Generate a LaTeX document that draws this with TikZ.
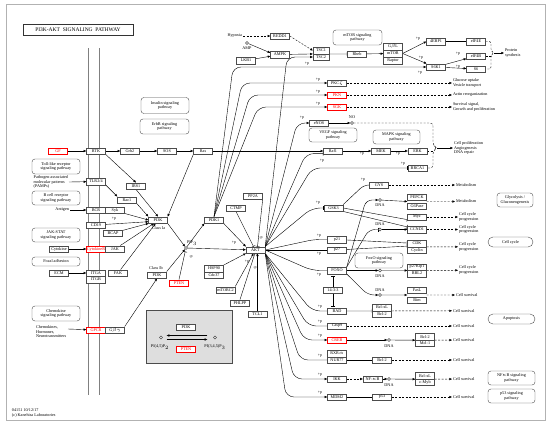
\documentclass[tikz,border=0pt]{standalone}
\usepackage{fontspec}
\setmainfont{Liberation Serif}
\usetikzlibrary{arrows.meta,calc}
\pgfdeclarelayer{bg}
\pgfsetlayers{bg,main}
\tikzset{every picture/.style={line width=0.5pt}}
\tikzset{
  gene/.style={draw=black!70, fill=white, minimum width=19pt, minimum height=6.5pt, inner sep=0pt, font=\fontsize{4.2}{4.2}\selectfont},
  rgene/.style={gene, draw=red, text=red},
  pathbox/.style={draw=black!70, fill=white, rounded corners=3pt, align=center, inner sep=0pt, font=\fontsize{4.2}{4.6}\selectfont},
  txt/.style={inner sep=0pt, outer sep=1pt, align=left, font=\fontsize{4.2}{4.6}\selectfont},
  plab/.style={inner sep=0pt, font=\fontsize{4}{4}\selectfont},
  dot/.style={circle, draw=black!70, fill=white, inner sep=0pt, minimum size=3pt},
  arr/.style={-{Triangle[length=2.6pt,width=2.2pt]}},
  inh/.style={-{Bar[width=4pt]}},
  dashpat/.style={dash pattern=on 2pt off 1.5pt},
  dasharr/.style={arr, dashpat},
  memb/.style={draw=gray, double=white, double distance=0.8pt, line width=0.45pt},
}
\begin{document}
\begin{tikzpicture}[x=1pt,y=1pt,yscale=-1,xscale=1]
\useasboundingbox (0,0) rectangle (550,426);

\begin{pgfonlayer}{bg}
%Shape: Frame
\draw [draw=gray!60, line width=1pt] (6,4) rectangle (545,420);
%Straight Lines: membrane
\draw [memb] (89,48) -- (89,395);
\draw [memb] (100,48) -- (100,395);
%Shape: Rectangle legend
\draw [draw=black!70, fill=black!13, line width=0.7pt] (146,310) rectangle (232,363);
\end{pgfonlayer}

% Text Node
\node [draw=black!80, line width=0.6pt, minimum width=110pt, minimum height=11pt, inner sep=0pt, font=\fontsize{5.5}{5.5}\selectfont] (title) at (78,29.5) {PI3K-AKT\ \ SIGNALING\ \ PATHWAY};

% pathway maps
\node [pathbox, minimum width=48pt, minimum height=16pt] (insulin) at (165,105.5) {Insulin signaling\\pathway};
\node [pathbox, minimum width=49pt, minimum height=15pt] (erbb) at (164.5,126.5) {ErbB signaling\\pathway};
\node [pathbox, minimum width=48pt, minimum height=15pt] (tlrpath) at (56,166.5) {Toll-like receptor\\signaling pathway};
\node [pathbox, minimum width=48pt, minimum height=14pt] (bcrpath) at (56,198) {B cell receptor\\signaling pathway};
\node [pathbox, minimum width=48pt, minimum height=14pt] (jakpath) at (56,235) {JAK-STAT\\signaling pathway};
\node [pathbox, minimum width=48pt, minimum height=9pt] (focal) at (56,261.5) {Focal adhesion};
\node [pathbox, minimum width=48pt, minimum height=15pt] (chempath) at (56,313.5) {Chemokine\\signaling pathway};
\node [pathbox, minimum width=49pt, minimum height=15pt] (mtorpath) at (357.5,37.5) {mTOR signaling\\pathway};
\node [pathbox, minimum width=48pt, minimum height=14pt] (vegf) at (333,135) {VEGF signaling\\pathway};
\node [pathbox, minimum width=47pt, minimum height=14pt] (mapk) at (396.5,137) {MAPK signaling\\pathway};
\node [pathbox, minimum width=48pt, minimum height=15pt] (foxopath) at (379,260.5) {FoxO signaling\\pathway};
\node [pathbox, minimum width=36pt, minimum height=14pt] (glyco) at (515,200) {Glycolysis /\\Gluconeogenesis};
\node [pathbox, minimum width=45pt, minimum height=10pt, rounded corners=5pt] (cellcyc) at (510.5,242) {Cell cycle};
\node [pathbox, minimum width=47pt, minimum height=10pt, rounded corners=5pt] (apopt) at (511.5,319) {Apoptosis};
\node [pathbox, minimum width=47pt, minimum height=14pt] (nfkbpath) at (511.5,378) {NF$\kappa$B signaling\\pathway};
\node [pathbox, minimum width=47pt, minimum height=14pt] (p53path) at (511.5,396) {p53 signaling\\pathway};

% receptors and left side
\node [rgene] (gf) at (58,151) {GF};
\node [gene] (rtk) at (96,151) {RTK};
\node [gene] (grb2) at (130,151) {Grb2};
\node [gene] (sos) at (167,151) {SOS};
\node [gene] (ras) at (203,151) {Ras};
\node [gene] (tlr24) at (96,181.5) {TLR2/4};
\node [gene] (irs1) at (136,186) {IRS1};
\node [gene] (rac1) at (127,200) {Rac1};
\node [gene] (bcr) at (96,210) {BCR};
\node [gene] (syk) at (115,210) {Syk};
\node [gene] (cd19) at (96,225) {CD19};
\node [gene] (bcap) at (113,233) {BCAP};
\node [gene] (cytok) at (59,249) {Cytokine};
\node [rgene] (cytokr) at (96,249) {CytokineR};
\node [gene] (jak) at (115,249) {JAK};
\node [gene] (ecm) at (59,273) {ECM};
\node [gene] (itga) at (96,273) {ITGA};
\node [gene] (itgb) at (96,279.5) {ITGB};
\node [gene] (fak) at (118,273) {FAK};
\node [gene] (pi3ka) at (158,220) {PI3K};
\node [gene] (pi3kb) at (157,275) {PI3K};
\node [rgene] (pten) at (179,283) {PTEN};
\node [rgene] (gpcr) at (96,330) {GPCR};
\node [gene] (gbg) at (115,330) {G$\beta\gamma$};

% AKT core
\node [dot] (pip3) at (186,248) {};
\node [gene] (pdk1) at (214,220) {PDK1};
\node [gene] (ctmp) at (236,208) {CTMP};
\node [gene] (pp2a) at (253,196) {PP2A};
\node [gene] (akt) at (255.5,250) {AKT};
\node [gene] (hsp90) at (214,268.5) {HSP90};
\node [gene] (cdc37) at (214,275) {Cdc37};
\node [gene] (mtorc2) at (225.5,290) {mTORC2};
\node [gene] (phlpp) at (240,303) {PHLPP};
\node [gene] (tcl1) at (257.5,314) {TCL1};

% mTOR branch
\node [gene] (redd1) at (280,36) {REDD1};
\node [dot] (amp) at (247,43) {};
\node [gene] (ampk) at (280,54.5) {AMPK};
\node [gene] (lkb1) at (246,60.5) {LKB1};
\node [gene, minimum width=16pt] (tsc1) at (321,50.5) {TSC1};
\node [gene, minimum width=16pt] (tsc2) at (321,57) {TSC2};
\node [gene] (rheb) at (357,54) {Rheb};
\node [gene, minimum height=7pt] (gbl) at (393,46.5) {G$\beta$L};
\node [gene, minimum height=7pt] (mtor) at (393,53.5) {mTOR};
\node [gene, minimum height=7pt] (raptor) at (393,60.5) {Raptor};
\node [gene] (ebp) at (436,41.5) {4EBP1};
\node [gene] (eif4e) at (476,41.5) {eIF4E};
\node [gene] (eif4b) at (476,56) {eIF4B};
\node [gene] (s6) at (476,69) {S6};
\node [gene] (s6k) at (436,67) {S6K1};
\node [gene] (pkc) at (337,83) {PKC$\zeta$};
\node [rgene] (pkn) at (337,95) {PKN};
\node [rgene] (sgk) at (337,107) {SGK};

% right side
\node [gene] (enos) at (319,123) {eNOS};
\node [dot] (no) at (352,123) {};
\node [gene] (raf1) at (333,151) {Raf1};
\node [gene] (mek) at (381,151) {MEK};
\node [gene] (erk) at (417.5,151) {ERK};
\node [gene] (brca1) at (417.5,168) {BRCA1};
\node [gene] (gys) at (379,185) {GYS};
\node [gene] (gsk3) at (333.5,208) {GSK3};
\node [gene] (pepck) at (417,197) {PEPCK};
\node [gene] (g6pase) at (417,206) {G6Pase};
\node [dot] (dna1) at (380,200) {};
\node [gene] (myc) at (417,217) {Myc};
\node [gene] (ccnd1) at (417,229.5) {CCND1};
\node [dot] (dna2) at (380,229.5) {};
\node [gene] (p21) at (337,239.5) {p21};
\node [gene] (p27) at (337,250) {p27};
\node [gene] (cdk) at (417,243.5) {CDK};
\node [gene] (cyclin) at (417,250) {Cyclin};
\node [gene] (foxo) at (337,270.5) {FOXO};
\node [dot] (dna3) at (380,270.5) {};
\node [gene] (kip1) at (417,267) {p27Kip1};
\node [gene] (rbl2) at (417,273.5) {RBL2};
\node [gene] (x1433) at (333,290) {14-3-3};
\node [dot] (dna4) at (380,295) {};
\node [gene] (fasl) at (417,290) {FasL};
\node [gene] (bim) at (417,300) {Bim};
\node [gene] (bad) at (337,311) {BAD};
\node [gene] (bclxl) at (382,307.5) {Bcl-xL};
\node [gene] (bcl2a) at (382,314) {Bcl-2};
\node [gene] (casp9) at (337,326) {Casp9};
\node [rgene] (creb) at (337,340) {CREB};
\node [dot] (dna5) at (389,340) {};
\node [gene] (bcl2b) at (425,336.75) {Bcl-2};
\node [gene] (mcl1) at (425,343.25) {Mcl-1};
\node [gene] (rxra) at (337,353.5) {RXR$\alpha$};
\node [gene] (nur77) at (337,360) {NUR77};
\node [gene] (bcl2c) at (382,360) {Bcl-2};
\node [gene] (ikk) at (337,379) {IKK};
\node [gene] (nfkb) at (372.5,379) {NF-$\kappa$B};
\node [dot] (dna6) at (389,379) {};
\node [gene] (bclxl2) at (425,375.75) {Bcl-xL};
\node [gene] (cmyb) at (425,382.25) {c-Myb};
\node [gene] (mdm2) at (337,397) {MDM2};
\node [gene] (p53) at (382,397) {p53};

% legend
\node [gene] (lpi3k) at (186,327) {PI3K};
\node [rgene] (lpten) at (186,349) {PTEN};
\node [dot] (lc1) at (161,337.5) {};
\node [dot] (lc2) at (215,337.5) {};
\node [txt] (lc1lab) at (160,347) {PI(4,5)P$_2$};
\node [txt] (lc2lab) at (215,347) {PI(3,4,5)P$_3$};

% Text Nodes
\node [txt, anchor=east] (pamps) at (69,182) {Pathogen-associated\\molecular patterns\\(PAMPs)};
\node [txt, anchor=east] (antigen) at (70,210) {Antigen};
\node [txt, anchor=north west] (chemo) at (35,324.5) {Chemokines,\\Hormones,\\Neurotransmitters};
\coordinate (chemoarr) at (68,329);
\node [txt, anchor=east] (hypoxia) at (243,36) {Hypoxia};
\node [txt] (amplab) at (247,48.5) {AMP};
\node [txt] (pip3lab) at (192,243) {PIP$_3$};
\node [txt] (cla) at (158.5,228) {Class Ia};
\node [txt] (clb) at (156,268) {Class Ib};
\node [txt] (nolab) at (352,117) {NO};
\node [txt] (dna1lab) at (380,205.5) {DNA};
\node [txt] (dna2lab) at (380,224.5) {DNA};
\node [txt] (dna3lab) at (380,276) {DNA};
\node [txt] (dna4lab) at (380,290) {DNA};
\node [txt] (dna5lab) at (389,346) {DNA};
\node [txt] (dna6lab) at (389,385) {DNA};
\node [txt, anchor=west] (psyn) at (504,53) {Protein\\synthesis};
\node [txt, anchor=west] (oglu) at (452,83) {Glucose uptake\\Vesicle transport};
\node [txt, anchor=west] (oact) at (452,95) {Actin reorganization};
\node [txt, anchor=west] (osurv) at (452,107) {Survival signal,\\Growth and proliferation};
\node [txt, anchor=west] (oprol) at (453,148) {Cell proliferation\\Angiogenesis\\DNA repair};
\node [txt, anchor=west] (omet1) at (455,185) {Metabolism};
\node [txt, anchor=west] (omet2) at (455,201.5) {Metabolism};
\node [txt, anchor=west] (occ1) at (458,217) {Cell cycle\\progression};
\node [txt, anchor=west] (occ2) at (458,229.5) {Cell cycle\\progression};
\node [txt, anchor=west] (occ3) at (458,246.75) {Cell cycle\\progression};
\node [txt, anchor=west] (occ4) at (458,270.25) {Cell cycle\\progression};
\node [txt, anchor=west] (ocs1) at (455,295) {Cell survival};
\node [txt, anchor=west] (ocs2) at (452,310.75) {Cell survival};
\node [txt, anchor=west] (ocs3) at (452,326) {Cell survival};
\node [txt, anchor=west] (ocs4) at (452,340) {Cell survival};
\node [txt, anchor=west] (ocs5) at (452,360) {Cell survival};
\node [txt, anchor=west] (ocs6) at (452,379) {Cell survival};
\node [txt, anchor=west] (ocs7) at (452,397) {Cell survival};
\node [txt, anchor=west] (kegg) at (11,413) {04151 10/12/17\\(c) Kanehisa Laboratories};

% +p labels
\node [plab] (pSyk) at (114,219) {+p};
\node [plab] (pPdk) at (234,243) {+p};
\node [plab] (pMtorc) at (247,262) {+p};
\node [plab] (pPhl) at (255,268) {-p};
\node [plab] (pPp2a) at (261,238) {-p};
\node [plab] (pPten) at (191,257) {-p};
\node [plab] (pTsc) at (307,64) {+p};
\node [plab] (pEbp) at (418,39) {+p};
\node [plab] (pS6ka) at (421,58) {+p};
\node [plab] (pS6kb) at (420,73) {+p};
\node [plab] (pEif) at (458,54) {+p};
\node [plab] (pS6) at (458,67) {+p};
\node [plab] (pPkc) at (318,80) {+p};
\node [plab] (pPkn) at (318,92) {+p};
\node [plab] (pSgk) at (318,104) {+p};
\node [plab] (pEnos) at (302,118) {+p};
\node [plab] (pRaf) at (322,161) {+p};
\node [plab] (pMek) at (362,154) {+p};
\node [plab] (pErk) at (398,154) {+p};
\node [plab] (pBrca) at (403,164) {+p};
\node [plab] (pGys) at (363,180) {+p};
\node [plab] (pGsk) at (318,203) {+p};
\node [plab] (pP21) at (319,236) {+p};
\node [plab] (pP27) at (319,253.5) {+p};
\node [plab] (pFoxo) at (319,275) {+p};
\node [plab] (pBad) at (320,307) {+p};
\node [plab] (pCasp) at (320,322) {+p};
\node [plab] (pCreb) at (320,336) {+p};
\node [plab] (pNur) at (320,356) {+p};
\node [plab] (pIkk) at (320,375) {+p};
\node [plab] (pMdm) at (320,393) {+p};

\begin{pgfonlayer}{bg}
% receptor side
\draw [arr] (gf) -- (rtk);
\draw [arr] (rtk) -- (grb2);
\draw [arr] (grb2) -- (sos);
\draw [arr] (sos) -- (ras);
\draw [arr] (ras) -- (raf1);
\draw [arr] (rtk.south east) -- (irs1.north);
\draw [arr] (pamps.east) -- (tlr24);
\draw [arr] (tlr24.south east) -- (rac1.north west);
\draw [arr] (irs1.south) -- (pi3ka.north);
\draw [arr] (rac1.south east) -- (pi3ka.north west);
\draw [arr] (antigen) -- (bcr);
\draw [arr] (syk.south east) -- (pi3ka.west);
\draw [arr] (cd19) -- (pi3ka.190);
\draw [arr] (bcap) -- (pi3ka.200);
\draw [arr] (jak) -- (pi3ka.220);
\draw [arr] (fak) -- (pi3ka.235);
\draw [arr] (ras.south west) -- (pi3ka.north east);
\draw [arr] (cytok) -- (cytokr);
\draw [arr] (ecm) -- (itga);
\draw [arr] (chemoarr) -- (gpcr);
\draw [arr] (gbg.north east) -- (pi3kb.south);
% PIP3 and AKT
\draw [arr] (pi3ka.south east) -- (pip3);
\draw [arr] (pi3kb.north east) -- (pip3);
\draw [inh, shorten >=2pt] (pten.north) -- (pip3);
\draw [arr] (pip3) -- (pdk1.south west);
\draw [arr] (pip3) -- (akt);
\draw [arr] (pdk1.south east) -- (akt.north west);
\draw [inh] (ctmp.south) -- (akt.120);
\draw [inh] (pp2a.south east) -- (akt.60);
\draw [arr] (hsp90.north east) -- (akt.south west);
\draw [arr] (mtorc2.north east) -- (akt.240);
\draw [inh] (phlpp.north) -- (akt.260);
\draw [arr] (tcl1) -- (tcl1 |- akt.south);
% PDK1 targets
\draw [arr, rounded corners=8pt] (pdk1.north) -- (233,67) -- (s6k);
\draw [arr, rounded corners=8pt] (pdk1.north) -- (242,83) -- (pkc);
\draw [arr, rounded corners=8pt] (pdk1.north) -- (250,95) -- (pkn);
\draw [arr, rounded corners=8pt] (pdk1.north) -- (258,107) -- (sgk);
\draw [dasharr] (pkc) -- (oglu);
\draw [dasharr] (pkn) -- (oact);
\draw [dasharr] (sgk) -- (osurv);
% mTOR branch
\draw [dasharr] (hypoxia) -- (redd1);
\draw [dasharr] (redd1.east) -- (tsc1.west);
\draw [arr] (amp) -- (ampk.170);
\draw [arr] (lkb1) -- (ampk.190);
\draw [arr] (ampk) -- (tsc1.south west);
\draw [inh] (tsc1.south east) -- (rheb);
\draw [arr] (rheb) -- (mtor);
\draw [arr] (mtor.east) -- (ebp.west);
\draw [arr] (mtor.east) -- (s6k.160);
\draw [inh] (ebp) -- (eif4e);
\draw [arr] (s6k) -- (eif4b);
\draw [arr] (s6k) -- (s6);
\coordinate (pstip) at (494,53);
\draw [dashpat, rounded corners=2pt] (eif4e.east) -- (491,41.5) -- (491,51) -- (pstip) -- (491,55) -- (491,69) -- (s6.east);
\draw [dashpat] (eif4b.east) -- (491,56);
\draw [arr] (pstip) -- (psyn.west);
% AKT targets
\draw [arr, rounded corners=8pt] (akt.north east) -- (287,57) -- (tsc2);
\draw [arr, rounded corners=8pt] (akt.north east) -- (297,123) -- (enos);
\draw [inh, rounded corners=8pt] (akt.north east) -- (306,153.5) -- (raf1.195);
\draw [inh, rounded corners=8pt] (akt.north east) -- (312,168) -- (brca1);
\draw [inh, rounded corners=8pt] (akt.north east) -- (312,208) -- (gsk3);
\draw [inh, rounded corners=6pt] (akt.east) -- (314,239.5) -- (p21);
\draw [inh] (akt.east) -- (p27);
\draw [inh, rounded corners=8pt] (akt.east) -- (312,270.5) -- (foxo);
\draw [inh, rounded corners=8pt] (akt.south east) -- (312,311) -- (bad);
\draw [inh, rounded corners=8pt] (akt.south east) -- (308,326) -- (casp9);
\draw [arr, rounded corners=8pt] (akt.south east) -- (304,340) -- (creb);
\draw [inh, rounded corners=8pt] (akt.south east) -- (300,360) -- (nur77);
\draw [arr, rounded corners=8pt] (akt.south east) -- (294,379) -- (ikk);
\draw [arr, rounded corners=8pt] (akt.south east) -- (286,397) -- (mdm2);
% eNOS and MAPK
\draw [arr] (enos) -- (no);
\draw [arr] (raf1) -- (mek);
\draw [arr] (mek) -- (erk);
\coordinate (proltip) at (437,148);
\draw [dashpat, rounded corners=3pt] (no.east) -- (433,123) -- (433,145) -- (proltip) -- (433,151) -- (433,168) -- (brca1.east);
\draw [dashpat] (erk.east) -- (433,151);
\draw [arr] (proltip) -- (oprol.west);
% GSK3 and FOXO
\draw [inh, rounded corners=5pt] (gsk3.north east) -- (364,185) -- (gys);
\draw [dasharr] (gys) -- (omet1);
\draw [inh] (gsk3.east) -- (myc.195);
\draw [inh] (gsk3.south east) -- (ccnd1.165);
\draw [arr, rounded corners=6pt] (foxo.north east) -- (366,200) -- (dna1);
\draw [inh, rounded corners=6pt] (foxo.north east) -- (369,229.5) -- (dna2);
\draw [arr] (foxo) -- (dna3);
\draw [arr, rounded corners=6pt] (foxo.south east) -- (368,295) -- (dna4);
\draw [arr] (dna1) -- ($(pepck.south west)!0.5!(g6pase.north west)$);
\draw [dasharr] ($(pepck.south east)!0.5!(g6pase.north east)$) -- (omet2);
\draw [arr] (dna2) -- (ccnd1);
\draw [dasharr] (myc) -- (occ1);
\draw [dasharr] (ccnd1) -- (occ2);
\draw [inh] (p21) -- (cdk);
\draw [inh] (p27) -- (cdk.195);
\draw [dasharr] (cdk.south east) -- (occ3);
\draw [arr] (dna3) -- (kip1.south west);
\draw [dasharr] (kip1.south east) -- (occ4);
\draw [arr] (dna4) -- ($(fasl.south west)!0.5!(bim.north west)$);
\draw [dasharr] ($(fasl.south east)!0.5!(bim.north east)$) -- (ocs1);
\draw [inh, shorten >=2pt] (x1433) -- (foxo.south -| x1433);
\draw [inh, shorten >=1pt] (x1433) -- (bad.north -| x1433);
% survival
\draw [inh] (bad) -- (bclxl.south west);
\draw [dasharr] (bclxl.south east) -- (ocs2);
\draw [dasharr] (casp9) -- (ocs3);
\draw [arr] (creb) -- (dna5);
\draw [arr] (dna5) -- (bcl2b.south west);
\draw [dasharr] (bcl2b.south east) -- (ocs4);
\draw [inh] (nur77) -- (bcl2c);
\draw [dasharr] (bcl2c) -- (ocs5);
\draw [dasharr] (ikk) -- (nfkb);
\draw [arr] (nfkb) -- (dna6);
\draw [arr] (dna6) -- (bclxl2.south west);
\draw [dasharr] (bclxl2.south east) -- (ocs6);
\draw [inh] (mdm2) -- (p53);
\draw [dasharr] (p53) -- (ocs7);
% legend arrows
\draw [arr, shorten <=4pt, shorten >=6pt] ([yshift=2pt]lc1.east) -- ([yshift=2pt]lc2.west);
\draw [arr, shorten <=6pt, shorten >=4pt] ([yshift=-2pt]lc2.west) -- ([yshift=-2pt]lc1.east);
\end{pgfonlayer}
\end{tikzpicture}
\end{document}
